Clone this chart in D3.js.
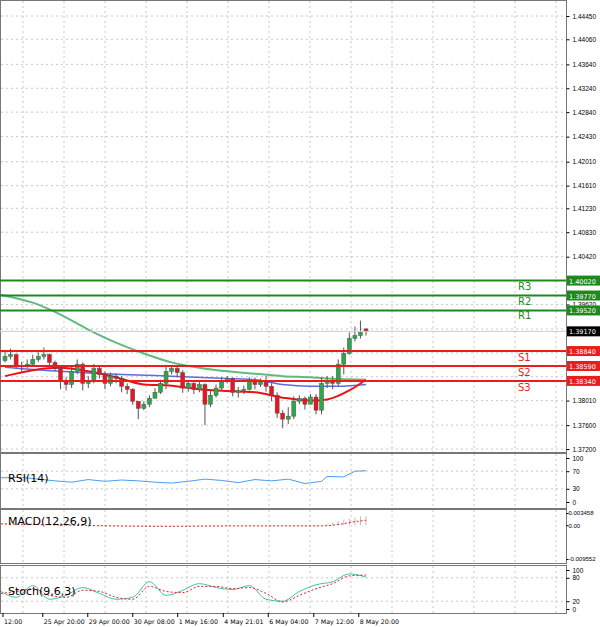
<!DOCTYPE html><html><head><meta charset="utf-8"><script src="https://cdn.jsdelivr.net/npm/d3@7"></script>
<style>body{margin:0;background:#fff}svg{font-family:Tahoma,"DejaVu Sans",sans-serif}</style></head><body><svg id="c" width="600" height="627"></svg>
<script>
const closes=[1.3875,1.3878,1.3860,1.3858,1.3862,1.3870,1.3875,1.3878,1.3865,1.3855,1.3835,1.3828,1.3850,1.3862,1.3830,1.3835,1.3855,1.3845,1.3830,1.3842,1.3838,1.3825,1.3820,1.3800,1.3788,1.3795,1.3805,1.3815,1.3830,1.3850,1.3855,1.3848,1.3822,1.3830,1.3820,1.3828,1.3795,1.3810,1.3822,1.3835,1.3838,1.3815,1.3818,1.3820,1.3835,1.3828,1.3832,1.3825,1.3810,1.3780,1.3770,1.3775,1.3800,1.3805,1.3795,1.3807,1.3785,1.3830,1.3835,1.3830,1.3862,1.3880,1.3905,1.3910,1.3915,1.3917];
const highs=[1.3885,1.3888,1.3880,1.3866,1.3870,1.3878,1.3882,1.3890,1.3880,1.3868,1.3860,1.3840,1.3858,1.3870,1.3865,1.3842,1.3862,1.3858,1.3850,1.3848,1.3846,1.3842,1.3830,1.3822,1.3800,1.3800,1.3810,1.3822,1.3836,1.3860,1.3860,1.3860,1.3852,1.3836,1.3832,1.3834,1.3830,1.3818,1.3828,1.3840,1.3842,1.3840,1.3824,1.3826,1.3840,1.3840,1.3838,1.3842,1.3830,1.3815,1.3785,1.3790,1.3808,1.3810,1.3808,1.3812,1.3812,1.3840,1.3842,1.3842,1.3870,1.3890,1.3915,1.3925,1.3935,1.3922];
const lows=[1.3865,1.3870,1.3855,1.3850,1.3855,1.3860,1.3866,1.3870,1.3860,1.3850,1.3820,1.3818,1.3822,1.3845,1.3818,1.3822,1.3830,1.3838,1.3820,1.3825,1.3830,1.3815,1.3812,1.3794,1.3770,1.3785,1.3790,1.3805,1.3812,1.3820,1.3845,1.3840,1.3814,1.3816,1.3812,1.3815,1.3760,1.3790,1.3806,1.3818,1.3830,1.3808,1.3806,1.3812,1.3818,1.3820,1.3824,1.3816,1.3800,1.3772,1.3755,1.3762,1.3770,1.3795,1.3786,1.3795,1.3778,1.3778,1.3822,1.3820,1.3825,1.3845,1.3878,1.3900,1.3905,1.3910];
const opens=[1.3868,1.3875,1.3878,1.3860,1.3858,1.3862,1.3870,1.3875,1.3878,1.3865,1.3855,1.3835,1.3828,1.3850,1.3862,1.3830,1.3835,1.3855,1.3845,1.3830,1.3842,1.3838,1.3825,1.3820,1.3800,1.3788,1.3795,1.3805,1.3815,1.3830,1.3850,1.3855,1.3848,1.3822,1.3830,1.3820,1.3828,1.3795,1.3810,1.3822,1.3835,1.3838,1.3815,1.3818,1.3820,1.3835,1.3828,1.3832,1.3825,1.3810,1.3780,1.3770,1.3775,1.3800,1.3805,1.3795,1.3807,1.3785,1.3830,1.3835,1.3830,1.3862,1.3880,1.3905,1.3910,1.3921];
const maRedIdx=[0,5,10,15,20,25,30,35,40,45,50,55,58,62,65];
const maRed=[1.3842,1.3852,1.3856,1.3850,1.3840,1.3828,1.3826,1.3820,1.3817,1.3815,1.3806,1.3801,1.3803,1.3818,1.3836];
const maBlueIdx=[0,10,20,30,40,45,50,55,60,65];
const maBlue=[1.3857,1.3850,1.3845,1.3842,1.3838,1.3836,1.3828,1.3825,1.3825,1.3828];
const maGreenIdx=[-1,5,10,15,20,25,30,35,40,45,50,55,60,65];
const maGreen=[1.3978,1.3965,1.3945,1.3920,1.3898,1.3880,1.3865,1.3856,1.3850,1.3846,1.3842,1.3840,1.3837,1.3836];
const resist=[1.40020,1.39770,1.39520], support=[1.38840,1.38590,1.38340];
const resNames=["R3","R2","R1"], supNames=["S1","S2","S3"];
const priceTicks=[1.44450,1.44060,1.43640,1.43240,1.42840,1.42430,1.42010,1.41610,1.41230,1.40830,1.40420,1.39620,1.38010,1.37600,1.37200];
const rsiIdx=[-1,3,6,9,12,15,18,21,24,27,30,33,36,39,42,45,48,51,54,57,58,61,63,65];
const rsi=[55,56,52,48,45,51,47,50,48,45,43,47,52,49,44,51,48,52,42,47,58,57,70,71];
const stochIdx=[-1,2,5,8,11,14,17,20,23,26,29,32,35,38,41,44,47,50,53,56,59,62,65];
const stochMain=[45,30,60,25,35,55,40,25,30,70,35,48,65,55,50,60,25,20,45,62,70,90,82];
const stochSig=[40,45,52,35,30,48,45,30,25,58,45,42,58,58,52,55,40,18,35,52,65,85,87];
const macdHist=[0.0004,0.0004,0.0003,0.0003,0.0002,0.0002,0.0001,0,0,-0.0001,-0.0001,-0.0002,-0.0002,-0.0002,-0.0003,-0.0003,-0.0003,-0.0003,-0.0003,-0.0003,-0.0002,-0.0002,-0.0002,-0.0003,-0.0003,-0.0003,-0.0003,-0.0003,-0.0003,-0.0003,-0.0002,-0.0002,-0.0002,-0.0002,-0.0002,-0.0002,-0.0002,-0.0002,-0.0002,-0.0002,-0.0001,-0.0001,-0.0001,-0.0001,-0.0001,-0.0001,-0.0001,-0.0001,-0.0002,-0.0002,-0.0002,-0.0002,-0.0002,-0.0002,-0.0002,-0.0002,-0.0002,-0.0002,0.0003,0.0008,0.0012,0.0016,0.0019,0.0022,0.0025,0.0026];
const macdSigIdx=[-1,10,20,30,40,50,57,60,63,65];
const macdSig=[0.0004,0.0001,-0.0002,-0.0003,-0.0002,-0.0002,-0.0002,0.0002,0.0010,0.0014];
const dateLabels=["12:00","25 Apr 20:00","29 Apr 00:00","30 Apr 08:00","1 May 16:00","4 May 21:01","6 May 04:00","7 May 12:00","8 May 20:00"];
const dateIdx=[-0.5,6.8,14.9,23,31.1,39.3,47.4,55.6,63.7];

const svg=d3.select("#c");
const PR=566;
const x=d3.scaleLinear().domain([0,65]).range([5,366]);
const y=d3.scaleLinear().domain([1.3720,1.4445]).range([449,16]);
const g="#c8c8c8";
const panels=[[0,452],[453,508],[509,563],[565,613]];
panels.forEach(([a,b])=>{
  svg.append("rect").attr("x",0.5).attr("y",a+0.5).attr("width",PR).attr("height",b-a).attr("fill","none").attr("stroke","#777");
});
const vg=d3.range(0,566,41).map(v=>v+23);
panels.forEach(([a,b])=>{
  vg.forEach(v=>svg.append("line").attr("x1",v).attr("x2",v).attr("y1",a+1).attr("y2",b).attr("stroke",g).attr("stroke-dasharray","2,3"));
});
priceTicks.concat([1.40020,1.39210,1.38810,1.38410]).forEach(p=>{
  svg.append("line").attr("x1",1).attr("x2",PR).attr("y1",y(p)).attr("y2",y(p)).attr("stroke",g).attr("stroke-dasharray","2,3");
});
const axR=svg.append("g").attr("transform",`translate(${PR+0.5},0)`).call(d3.axisRight(y).tickValues(priceTicks).tickFormat(d3.format(".5f")).tickSize(3));
axR.selectAll("text").attr("font-size",6.5).attr("fill","#000");
axR.select(".domain").remove();
const ln=(idx,vals,col,w)=>svg.append("path").datum(idx.map((k,i)=>[k,vals[i]])).attr("fill","none").attr("stroke",col).attr("stroke-width",w)
  .attr("d",d3.line().curve(d3.curveMonotoneX).x(d=>Math.max(1,x(d[0]))).y(d=>y(d[1])));
ln(maGreenIdx,maGreen,"#5fba7d",2);
ln(maBlueIdx,maBlue,"#5b6ee1",1.5);
ln(maRedIdx,maRed,"#f01010",2);
closes.forEach((c,i)=>{
  const o=opens[i],up=c>=o,cx=x(i);
  svg.append("line").attr("x1",cx).attr("x2",cx).attr("y1",y(highs[i])).attr("y2",y(lows[i])).attr("stroke","#555");
  svg.append("rect").attr("x",cx-2).attr("width",4).attr("y",y(Math.max(o,c))).attr("height",Math.max(1,Math.abs(y(o)-y(c))))
    .attr("fill",up?"#2aa84a":"#e8141e").attr("stroke","#555").attr("stroke-width",0.5);
});
const lvl=(p,col,name,ty)=>{
  svg.append("line").attr("x1",0).attr("x2",PR).attr("y1",y(p)).attr("y2",y(p)).attr("stroke",col).attr("stroke-width",2);
  svg.append("text").attr("x",518).attr("y",ty).attr("font-size",10).attr("fill",col).text(name);
  svg.append("rect").attr("x",PR+1).attr("y",y(p)-5).attr("width",33).attr("height",10).attr("fill",col);
  svg.append("text").attr("x",PR+3).attr("y",y(p)+3).attr("font-size",6.5).attr("fill","#fff").text(p.toFixed(5));
};
resist.forEach((p,i)=>lvl(p,"#1d8a1d",resNames[i],y(p)+9));
support.forEach((p,i)=>lvl(p,"#e81e1e",supNames[i],y(p)+10));
svg.append("line").attr("x1",0).attr("x2",PR).attr("y1",y(1.3917)).attr("y2",y(1.3917)).attr("stroke","#ccc");
svg.append("rect").attr("x",PR+1).attr("y",y(1.3917)-5).attr("width",33).attr("height",10).attr("fill","#000");
svg.append("text").attr("x",PR+3).attr("y",y(1.3917)+3).attr("font-size",6.5).attr("fill","#fff").text("1.39170");
const yr=d3.scaleLinear().domain([0,100]).range([502,458]);
[70,30].forEach(v=>svg.append("line").attr("x1",1).attr("x2",PR).attr("y1",yr(v)).attr("y2",yr(v)).attr("stroke",g).attr("stroke-dasharray","2,3"));
svg.append("path").datum(rsiIdx.map((k,i)=>[k,rsi[i]])).attr("fill","none").attr("stroke","#4a9ef0").attr("d",d3.line().x(d=>Math.max(1,x(d[0]))).y(d=>yr(d[1])));
const axRsi=svg.append("g").attr("transform",`translate(${PR+0.5},0)`).call(d3.axisRight(yr).tickValues([100,70,30,0]).tickSize(3));
axRsi.select(".domain").remove();axRsi.selectAll("text").attr("font-size",6.5);
svg.append("text").attr("x",8).attr("y",482).attr("font-size",11).text("RSI(14)");
const ym=d3.scaleLinear().domain([-0.009552,0.003458]).range([559,513]);
macdHist.forEach((v,i)=>svg.append("line").attr("x1",x(i)).attr("x2",x(i)).attr("y1",ym(0)).attr("y2",ym(v)).attr("stroke","#bbb"));
svg.append("path").datum(macdSigIdx.map((k,i)=>[k,macdSig[i]])).attr("fill","none").attr("stroke","#e81e1e").attr("stroke-dasharray","2,2").attr("d",d3.line().curve(d3.curveMonotoneX).x(d=>Math.max(1,x(d[0]))).y(d=>ym(d[1])));
const axM=svg.append("g").attr("transform",`translate(${PR+0.5},0)`).call(d3.axisRight(ym).tickValues([0.003458,0,-0.009552]).tickFormat(d=>d===0?"0.00":String(d)).tickSize(2));
axM.select(".domain").remove();axM.selectAll("text").attr("font-size",6).attr("x",2);
svg.append("text").attr("x",8).attr("y",525).attr("font-size",11).text("MACD(12,26,9)");
const ys=d3.scaleLinear().domain([0,100]).range([609,570]);
[80,20].forEach(v=>svg.append("line").attr("x1",1).attr("x2",PR).attr("y1",ys(v)).attr("y2",ys(v)).attr("stroke",g).attr("stroke-dasharray","2,3"));
svg.append("path").datum(stochIdx.map((k,i)=>[k,stochMain[i]])).attr("fill","none").attr("stroke","#40c0b0").attr("d",d3.line().curve(d3.curveMonotoneX).x(d=>Math.max(1,x(d[0]))).y(d=>ys(d[1])));
svg.append("path").datum(stochIdx.map((k,i)=>[k,stochSig[i]])).attr("fill","none").attr("stroke","#e81e1e").attr("stroke-dasharray","2,2").attr("d",d3.line().curve(d3.curveMonotoneX).x(d=>Math.max(1,x(d[0]))).y(d=>ys(d[1])));
const axS=svg.append("g").attr("transform",`translate(${PR+0.5},0)`).call(d3.axisRight(ys).tickValues([100,80,20,0]).tickSize(3));
axS.select(".domain").remove();axS.selectAll("text").attr("font-size",6.5);
svg.append("text").attr("x",8).attr("y",595).attr("font-size",11).text("Stoch(9,6,3)");
dateLabels.forEach((t,i)=>{
  const px=Math.max(3,x(dateIdx[i]));
  svg.append("line").attr("x1",px).attr("x2",px).attr("y1",613).attr("y2",617).attr("stroke","#000");
  svg.append("text").attr("x",px+1).attr("y",624).attr("font-size",6.3).text(t);
});
</script></body></html>
